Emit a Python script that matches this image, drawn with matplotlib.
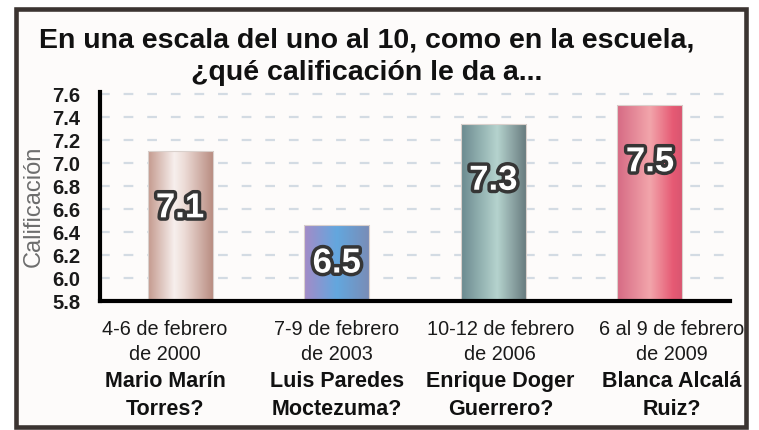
import matplotlib
matplotlib.use('Agg')
import matplotlib.pyplot as plt
import numpy as np
from matplotlib.patches import Rectangle
from matplotlib.colors import LinearSegmentedColormap
import matplotlib.patheffects as pe
import matplotlib.transforms as mtrans

plt.rcParams['font.family'] = ['Liberation Sans', 'DejaVu Sans']
plt.rcParams['lines.scale_dashes'] = False

# ---- data ----
values = [7.1, 6.46, 7.34, 7.5]
value_labels = ["7.1", "6.5", "7.3", "7.5"]
dates = ["4-6 de febrero", "7-9 de febrero", "10-12 de febrero", "6 al 9 de febrero"]
years = ["de 2000", "de 2003", "de 2006", "de 2009"]
names_first = ["Mario Marín", "Luis Paredes", "Enrique Doger", "Blanca Alcalá"]
names_last = ["Torres?", "Moctezuma?", "Guerrero?", "Ruiz?"]
yticks = [5.8, 6.0, 6.2, 6.4, 6.6, 6.8, 7.0, 7.2, 7.4, 7.6]
title1 = "En una escala del uno al 10, como en la escuela,"
title2 = "¿qué calificación le da a..."

# ---- styles ----
bar_stops = [
    [(0.0, '#c49a8e'), (0.4, '#f7efed'), (0.55, '#eddcd7'), (1.0, '#b78a7e')],
    [(0.0, '#a48bc7'), (0.5, '#63a7de'), (1.0, '#7a8cb6')],
    [(0.0, '#6b8a8f'), (0.55, '#b5d3ce'), (1.0, '#66797d')],
    [(0.0, '#d66a84'), (0.5, '#f2a5ab'), (0.85, '#e65a74'), (1.0, '#d85570')],
]
label_offsets_px = [-15, 0, 7, 22]

W, H = 759, 431
fig = plt.figure(figsize=(W / 100, H / 100), dpi=100)
fig.patch.set_facecolor('white')
frame = Rectangle((15.5 / W, 3 / H), 730 / W, 418 / H, transform=fig.transFigure,
                  facecolor='#fdfbfa', edgecolor='#3b3431', linewidth=3.3, zorder=-5)
fig.add_artist(frame)

ax = fig.add_axes([100 / W, 129 / H, 630 / W, 209 / H])
ax.set_facecolor('none')
x = np.arange(len(values))
base_val = yticks[0]
bars = ax.bar(x, np.array(values) - base_val, bottom=base_val, width=0.415, zorder=2)

grad = np.linspace(0, 1, 256).reshape(1, -1)
for b, stops in zip(bars, bar_stops):
    cmap = LinearSegmentedColormap.from_list('g', stops)
    x0, w, y0, h = b.get_x(), b.get_width(), b.get_y(), b.get_height()
    im = ax.imshow(grad, cmap=cmap, extent=[x0, x0 + w, y0, y0 + h], aspect='auto',
                   zorder=2, origin='lower', interpolation='bilinear')
    im.set_clip_path(b)
    b.set_facecolor('none')
    b.set_edgecolor('#d9d0cc')
    b.set_linewidth(0.8)
    b.set_zorder(3)

ax.set_xlim(-0.511, 3.511)
ax.set_ylim(5.8, 7.617)

for s in ['top', 'right']:
    ax.spines[s].set_visible(False)
for s in ['left', 'bottom']:
    ax.spines[s].set_linewidth(3)
    ax.spines[s].set_color('black')
    ax.spines[s].set_zorder(6)

ax.set_xticks([])
ax.set_yticks(yticks)
ax.set_yticklabels([f'{t:.1f}' for t in yticks], fontsize=14.5, fontweight='bold', color='#1a1a1a')
ax.tick_params(axis='y', length=0, pad=14)

for t in yticks[1:]:
    ax.axhline(t, color='#d3dbe3', lw=1.6, dashes=(7, 10), zorder=1)

ymin = ax.get_ylim()[0]
for xi, v, lab in zip(x, values, value_labels):
    ymid = max(v - 0.49, (v + ymin) / 2)
    ax.text(xi, ymid, lab, ha='center', va='center', fontsize=25, fontweight='bold',
            color='white', zorder=7,
            path_effects=[pe.withStroke(linewidth=5, foreground='#353535')])

fig.text(34 / W, 1 - 206 / H, 'Calificación', rotation=90, fontsize=17, color='#6d6d6d',
         ha='center', va='center')

fig.text(367 / W, 1 - 47 / H, title1, fontsize=20.5, fontweight='bold', ha='center',
         va='baseline', color='#111111')
fig.text(367 / W, 1 - 80 / H, title2, fontsize=20.5, fontweight='bold', ha='center',
         va='baseline', color='#111111')

base = mtrans.blended_transform_factory(ax.transData, fig.transFigure)
for i in range(len(values)):
    tr = mtrans.offset_copy(base, fig=fig, x=label_offsets_px[i] * 0.72, y=0, units='points')
    fig.text(x[i], 1 - 335 / H, dates[i], transform=tr, fontsize=14.3, ha='center',
             va='baseline', color='#1a1a1a')
    fig.text(x[i], 1 - 360 / H, years[i], transform=tr, fontsize=14.3, ha='center',
             va='baseline', color='#1a1a1a')
    fig.text(x[i], 1 - 387 / H, names_first[i], transform=tr, fontsize=15.5, fontweight='bold',
             ha='center', va='baseline', color='#111111')
    fig.text(x[i], 1 - 415 / H, names_last[i], transform=tr, fontsize=15.5, fontweight='bold',
             ha='center', va='baseline', color='#111111')

fig.savefig('out.png', dpi=100)
